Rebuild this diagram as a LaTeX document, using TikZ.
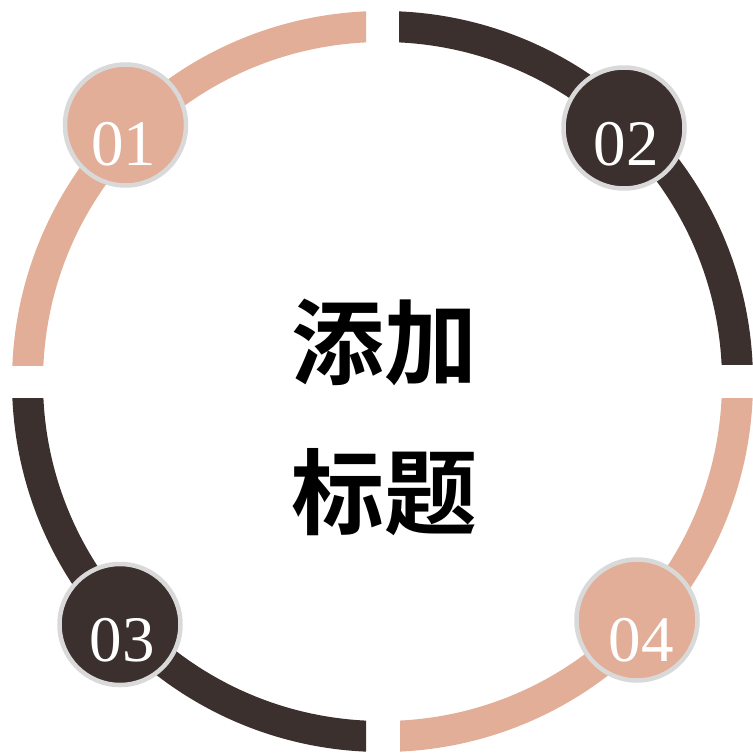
\documentclass[tikz,border=0pt]{standalone}
\usepackage{fontspec}
\setmainfont{Liberation Serif}
\newfontfamily\cjk{Noto Sans CJK SC Bold}
\definecolor{pinkc}{HTML}{E2AE97}
\definecolor{darkc}{HTML}{3B302E}
\definecolor{rimc}{HTML}{D9D9D9}
\begin{document}
\begin{tikzpicture}[x=1pt,y=-1pt,
  ringarc/.style={line width=31pt},
  badge/.style={circle,draw=rimc,line width=4.5pt,minimum size=121pt,inner sep=0pt},
  num/.style={text=white,font=\fontsize{65}{65}\selectfont,inner sep=0pt},
  title/.style={font=\cjk\fontsize{93}{93}\selectfont,inner sep=0pt}]
\useasboundingbox (0,0) rectangle (753,753);
\fill[white] (0,0) rectangle (753,753);
\coordinate (o) at (382.5,381.5);
% ring quadrants
\begin{scope}
  \clip (0,0) rectangle (366,365);
  \draw[ringarc,pinkc] (o) circle[radius=355pt];
\end{scope}
\begin{scope}
  \clip (399,0) rectangle (753,364);
  \draw[ringarc,darkc] (o) circle[radius=355pt];
\end{scope}
\begin{scope}
  \clip (0,398) rectangle (366,753);
  \draw[ringarc,darkc] (o) circle[radius=355pt];
\end{scope}
\begin{scope}
  \clip (400,398) rectangle (753,753);
  \draw[ringarc,pinkc] (o) circle[radius=355pt];
\end{scope}
% badges
\node[badge,fill=pinkc] (c1) at (125.5,125) {};
\node[badge,fill=darkc] (c2) at (624,128) {};
\node[badge,fill=darkc] (c3) at (120,624.5) {};
\node[badge,fill=pinkc] (c4) at (637,620) {};
\node[num] (t1) at (123.5,144) {01};
\node[num] (t2) at (626,144) {02};
\node[num] (t3) at (122,640) {03};
\node[num] (t4) at (641,640) {04};
% title
\node[title] (h1) at (384,342) {添加};
\node[title] (h2) at (384,492) {标题};
\end{tikzpicture}
\end{document}
